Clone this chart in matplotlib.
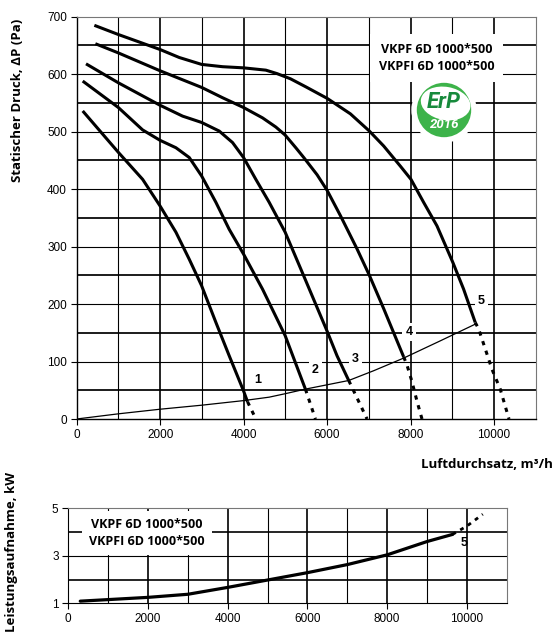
import matplotlib
matplotlib.use("Agg")
import matplotlib.pyplot as plt
from matplotlib.patches import Circle, Ellipse
import numpy as np

plt.rcParams['font.family'] = ['Liberation Sans', 'DejaVu Sans']

# Kennlinien der Drehzahlstufen 1..5 (Luftdurchsatz m3/h, Druck Pa)
c1_x = [144, 998, 1580, 1995, 2378, 2697, 2993, 3336, 3655, 3998, 4094]
c1_y = [536, 464, 417, 371, 325, 278, 232, 168, 110, 49, 30]
c2_x = [144, 998, 1580, 1995, 2378, 2697, 2993, 3336, 3655, 3998, 4453, 4996, 5481]
c2_y = [588, 542, 503, 485, 472, 455, 423, 377, 330, 287, 226, 145, 52]
c3_x = [223, 998, 1995, 2538, 2993, 3416, 3735, 3998, 4293, 4613, 4996, 5441, 5761, 6000, 6239, 6519]
c3_y = [618, 585, 546, 527, 516, 501, 481, 455, 417, 377, 325, 249, 194, 153, 110, 67]
c4_x = [447, 998, 1995, 2993, 3496, 3998, 4453, 4773, 4996, 5251, 5441, 5761, 6000, 6319, 6718, 7014, 7357, 7836]
c4_y = [653, 637, 606, 577, 559, 542, 524, 508, 494, 472, 455, 425, 398, 354, 296, 250, 192, 108]
c5_x = [423, 998, 1995, 2458, 2993, 3496, 3998, 4533, 4800, 5122, 5490, 6000, 6559, 7014, 7357, 7756,
        8011, 8314, 8634, 9017, 9272, 9551]
c5_y = [685, 669, 643, 629, 617, 613, 611, 607, 601, 592, 578, 558, 531, 501, 475, 440,
        417, 377, 336, 272, 226, 168]

# gestrichelte Fortsetzung unterhalb der Anlagenkennlinie
d1_x, d1_y = [4094, 4294], [30, 0]
d2_x, d2_y = [5481, 5721], [52, 0]
d3_x, d3_y = [6519, 6958], [67, 0]
d4_x, d4_y = [7836, 7915, 8035, 8155, 8275], [108, 94, 65, 31, 0]
d5_x, d5_y = [9551, 9631, 9791, 9950, 10150, 10360], [168, 157, 122, 87, 52, 0]

# Anlagenkennlinie
sys_x = [0, 998, 1995, 2993, 3998, 4613, 4996, 5481, 6519, 7117, 7836, 8714, 9551]
sys_y = [0, 9, 17, 24, 32, 38, 44, 52, 67, 84, 106, 136, 165]

# Leistungsaufnahme kW
p_x = [300, 2000, 3000, 4000, 5000, 6000, 7000, 8000, 9000, 9640]
p_y = [1.09, 1.25, 1.38, 1.67, 1.98, 2.29, 2.63, 3.04, 3.6, 3.9]
pd_x = [9640, 10000, 10400]
pd_y = [3.9, 4.25, 4.75]

speed_labels = ['1', '2', '3', '4', '5']
label_x = [4350, 5720, 6680, 7960, 9695]
label_y = [68, 86, 104, 151, 205]

model_text = "VKPF 6D 1000*500\nVKPFI 6D 1000*500"

W, H = 556, 635
fig = plt.figure(figsize=(W / 100, H / 100), dpi=100)

def box(l, t, r, b):
    return [l / W, 1 - b / H, (r - l) / W, (b - t) / H]

bold = dict(family=['Open Sans', 'DejaVu Sans'], fontweight='bold')

# ---------- Druckdiagramm ----------
ax = fig.add_axes(box(76.7, 16.7, 535.7, 419.0))
ax.set_xlim(0, 11000)
ax.set_ylim(0, 700)
ax.set_xticks(np.arange(0, 10001, 2000))
ax.set_yticks(np.arange(0, 701, 100))
for xv in np.arange(1000, 11000, 1000):
    ax.axvline(xv, color='black', lw=1.2 if xv % 2000 == 0 else 0.8, zorder=1)
for yv in np.arange(50, 700, 50):
    ax.axhline(yv, color='black', lw=1.25 if yv % 100 else 0.8, zorder=1)
ax.tick_params(labelsize=8.5, length=4, width=0.8, pad=3, right=False, top=False)
for s in ['top', 'right']:
    ax.spines[s].set_color('#777777')
for s in ['left', 'bottom']:
    ax.spines[s].set_linewidth(1.0)

for xs, ys in [(c1_x, c1_y), (c2_x, c2_y), (c3_x, c3_y), (c4_x, c4_y), (c5_x, c5_y)]:
    ax.plot(xs, ys, color='black', lw=2.2, solid_capstyle='butt', solid_joinstyle='round', zorder=3)
for xs, ys in [(d1_x, d1_y), (d2_x, d2_y), (d3_x, d3_y), (d4_x, d4_y), (d5_x, d5_y)]:
    ax.plot(xs, ys, color='black', lw=2.2, linestyle=(0, (1.4, 1.9)), zorder=3)
ax.plot(sys_x, sys_y, color='black', lw=0.9, zorder=3)

for t, lx, ly in zip(speed_labels, label_x, label_y):
    ax.text(lx, ly, t, fontsize=9, fontweight='bold', ha='center', va='center', zorder=4,
            bbox=dict(boxstyle='square,pad=0.25', fc='white', ec='none'))

ax.text(8623, 628, model_text, fontsize=9, ha='center', va='center', linespacing=1.45,
        zorder=4, bbox=dict(boxstyle='square,pad=0.7', fc='white', ec='none'), **bold)

fig.text(18 / W, 1 - 100 / H, 'Statischer Druck, ΔP (Pa)', rotation=90,
         ha='center', va='center', fontsize=9.5, **bold)
fig.text(553 / W, 1 - 465 / H, 'Luftdurchsatz, m³/h', ha='right', va='center',
         fontsize=9.5, **bold)

# ErP-Logo
lg = fig.add_axes(box(410, 76, 478, 144))
lg.set_xlim(-1.25, 1.25)
lg.set_ylim(-1.25, 1.25)
lg.set_aspect('equal')
lg.axis('off')
lg.add_patch(Circle((0, 0), 1.2, fc='white', ec='none'))
lg.add_patch(Circle((0, 0), 1.0, fc='#3db34a', ec='none'))
lg.add_patch(Ellipse((0.06, 0.24), 1.84, 1.22, angle=-10, fc='white', ec='none'))
lg.text(0.0, 0.3, 'ErP', color='#178a3c', fontsize=16, fontweight='bold', style='italic',
        ha='center', va='center', family=['Roboto', 'DejaVu Sans'])
lg.text(0.04, -0.52, '2016', color='white', fontsize=9.5, fontweight='bold', style='italic',
        ha='center', va='center', family=['Roboto', 'DejaVu Sans'])

# ---------- Leistungsdiagramm ----------
bx = fig.add_axes(box(68.3, 508.3, 506.7, 603.3))
bx.set_xlim(0, 11000)
bx.set_ylim(1, 5)
bx.set_xticks(np.arange(0, 10001, 2000))
bx.set_yticks([1, 3, 5])
for xv in np.arange(1000, 11000, 1000):
    bx.axvline(xv, color='black', lw=1.2 if xv % 2000 == 0 else 0.8, zorder=1)
for yv in [2, 3, 4]:
    bx.axhline(yv, color='black', lw=1.2 if yv % 2 == 0 else 0.8, zorder=1)
bx.tick_params(labelsize=8.5, length=4, width=0.8, pad=3)
for s in ['top', 'right']:
    bx.spines[s].set_color('#777777')

bx.plot(p_x, p_y, color='black', lw=2.3, solid_capstyle='round', zorder=3)
bx.plot(pd_x, pd_y, color='black', lw=2.0, linestyle=(0, (1.4, 1.8)), zorder=3)
bx.text(9940, 3.55, '5', fontsize=9, fontweight='bold', ha='center', va='center', zorder=4)
bx.text(1975, 3.95, model_text, fontsize=9, ha='center', va='center', linespacing=1.45,
        zorder=4, bbox=dict(boxstyle='square,pad=0.55', fc='white', ec='none'), **bold)

fig.text(12 / W, 1 - 552 / H, 'Leistungsaufnahme, kW', rotation=90,
         ha='center', va='center', fontsize=9.5, **bold)

fig.savefig('out.png', dpi=100)
